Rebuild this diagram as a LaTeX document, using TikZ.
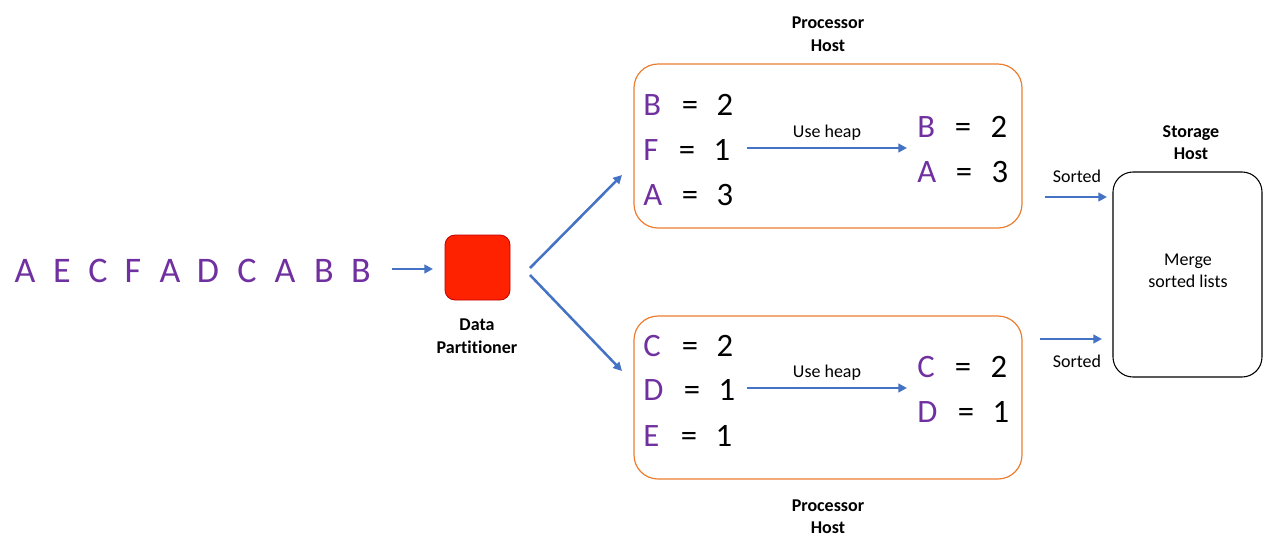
\documentclass[tikz,border=0pt]{standalone}
\usepackage{fontspec}
\setmainfont{Carlito}[Ligatures=NoCommon]
\usetikzlibrary{arrows.meta}
\definecolor{arrowblue}{HTML}{4472C4}
\definecolor{letterpurple}{HTML}{7030A0}
\definecolor{boxorange}{HTML}{ED7D31}
\definecolor{partred}{HTML}{FF2200}
\definecolor{partborder}{HTML}{C00000}
\tikzset{
  flow/.style={draw=arrowblue, line width=1.9pt, -{Triangle[length=6.5pt,width=6.5pt]}},
  seqletter/.style={text=letterpurple, font=\fontsize{27}{30}\selectfont, anchor=base, inner sep=0pt},
  keyletter/.style={text=letterpurple, font=\fontsize{24.5}{28}\selectfont, anchor=base west, inner sep=0pt},
  keyval/.style={text=black, font=\fontsize{24.5}{28}\selectfont, anchor=base, inner sep=0pt},
  smalltext/.style={font=\fontsize{13.5}{16}\selectfont, anchor=base, inner sep=0pt},
  boldlabel/.style={font=\bfseries\fontsize{13.5}{16}\selectfont, anchor=base, inner sep=0pt},
  procbox/.style={draw=boxorange, line width=0.9pt, rounded corners=18pt, inner sep=0pt, minimum width=291pt},
  storebox/.style={draw=black, line width=0.8pt, rounded corners=15pt, inner sep=0pt, minimum width=111.75pt, minimum height=153.75pt},
  partbox/.style={fill=partred, draw=partborder, line width=0.6pt, rounded corners=7.5pt, inner sep=0pt, minimum width=48.75pt, minimum height=48.75pt}
}
\begin{document}
\begin{tikzpicture}[x=0.75pt,y=-0.75pt]
\useasboundingbox (0,0) rectangle (1265,544);

% input sequence
\node[seqletter] (s1) at (25,282) {A};
\node[seqletter] (s2) at (62,282) {E};
\node[seqletter] (s3) at (98,282) {C};
\node[seqletter] (s4) at (133,282) {F};
\node[seqletter] (s5) at (170,282) {A};
\node[seqletter] (s6) at (208,282) {D};
\node[seqletter] (s7) at (247,282) {C};
\node[seqletter] (s8) at (285,282) {A};
\node[seqletter] (s9) at (324,282) {B};
\node[seqletter] (s10) at (361,282) {B};

% data partitioner
\node[partbox] (part) at (477.5,267.5) {};
\node[boldlabel] (partlbl1) at (477,330) {Data};
\node[boldlabel] (partlbl2) at (477,353) {Partitioner};

\coordinate (seqend) at (392,269);
\coordinate (partin) at (433,269);
\draw[flow] (seqend) -- (partin);

\coordinate (splitA) at (530,268);
\coordinate (splitB) at (530,275);
\coordinate (topin) at (622,175);
\coordinate (botin) at (622,371);
\draw[flow] (splitA) -- (topin);
\draw[flow] (splitB) -- (botin);

% top processor host
\node[procbox, minimum height=123pt] (top) at (828,146) {};
\node[boldlabel] (toplbl1) at (828,28) {Processor};
\node[boldlabel] (toplbl2) at (828,51) {Host};

\node[keyletter] (tB) at (643,115) {B};
\node[keyval] (tBe) at (690,115) {=};
\node[keyval] (tBv) at (725,115) {2};
\node[keyletter] (tF) at (643,160) {F};
\node[keyval] (tFe) at (687,160) {=};
\node[keyval] (tFv) at (722,160) {1};
\node[keyletter] (tA) at (643,205) {A};
\node[keyval] (tAe) at (690,205) {=};
\node[keyval] (tAv) at (725,205) {3};

\coordinate (theapA) at (747,148);
\coordinate (theapB) at (907,148);
\draw[flow] (theapA) -- (theapB);
\node[smalltext] (theap) at (827,137) {Use heap};

\node[keyletter] (tB2) at (917,137) {B};
\node[keyval] (tB2e) at (963,137) {=};
\node[keyval] (tB2v) at (999,137) {2};
\node[keyletter] (tA2) at (917,182) {A};
\node[keyval] (tA2e) at (964,182) {=};
\node[keyval] (tA2v) at (1000,182) {3};

% bottom processor host
\node[procbox, minimum height=122.25pt] (bot) at (828,397.5) {};
\node[boldlabel] (botlbl1) at (828,511) {Processor};
\node[boldlabel] (botlbl2) at (828,533) {Host};

\node[keyletter] (bC) at (643,356) {C};
\node[keyval] (bCe) at (690,356) {=};
\node[keyval] (bCv) at (725,356) {2};
\node[keyletter] (bD) at (643,400) {D};
\node[keyval] (bDe) at (692,400) {=};
\node[keyval] (bDv) at (727,400) {1};
\node[keyletter] (bE) at (643,446) {E};
\node[keyval] (bEe) at (689,446) {=};
\node[keyval] (bEv) at (724,446) {1};

\coordinate (bheapA) at (747,388);
\coordinate (bheapB) at (907,388);
\draw[flow] (bheapA) -- (bheapB);
\node[smalltext] (bheap) at (827,377) {Use heap};

\node[keyletter] (bC2) at (917,377) {C};
\node[keyval] (bC2e) at (963,377) {=};
\node[keyval] (bC2v) at (999,377) {2};
\node[keyletter] (bD2) at (917,422) {D};
\node[keyval] (bD2e) at (966,422) {=};
\node[keyval] (bD2v) at (1001,422) {1};

% storage host
\node[storebox] (store) at (1187.5,274.5) {};
\node[boldlabel] (storelbl1) at (1191,137) {Storage};
\node[boldlabel] (storelbl2) at (1191,159) {Host};
\node[smalltext] (merge1) at (1188,265) {Merge};
\node[smalltext] (merge2) at (1188,287) {sorted lists};

\coordinate (sortAstart) at (1045,197);
\coordinate (sortAend) at (1107,197);
\draw[flow] (sortAstart) -- (sortAend);
\node[smalltext] (sortA) at (1077,182) {Sorted};

\coordinate (sortBstart) at (1040,339);
\coordinate (sortBend) at (1102,339);
\draw[flow] (sortBstart) -- (sortBend);
\node[smalltext] (sortB) at (1077,367) {Sorted};
\end{tikzpicture}
\end{document}
